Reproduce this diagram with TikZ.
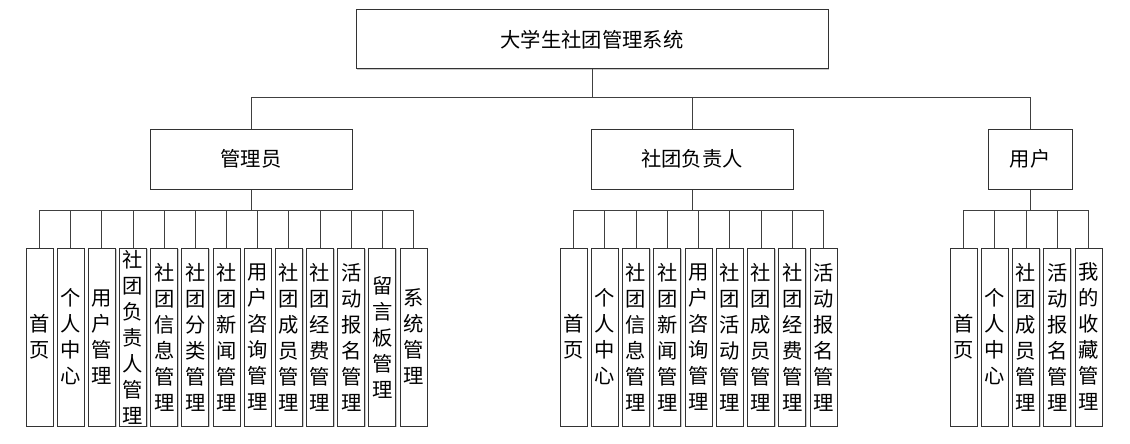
\documentclass[tikz,border=0pt]{standalone}
\usepackage{fontspec}
\newfontfamily\cjk{Noto Sans CJK SC}
\usetikzlibrary{shadows}
\begin{document}
\begin{tikzpicture}[x=1pt,y=-1pt,
  box/.style={draw=black!80,line width=1pt,fill=white,inner sep=0pt,
    drop shadow={shadow xshift=1.2pt,shadow yshift=-1.2pt,fill=black!35,opacity=.6},
    font=\cjk\fontsize{20.3}{26}\selectfont},
  leaf/.style={box,minimum width=27pt,minimum height=178pt,align=center},
  conn/.style={draw=black!75,line width=1pt}]
\useasboundingbox (0,0) rectangle (1130,444);
\node[box,minimum width=472pt,minimum height=59pt] (top) at (592,39.5) {大学生社团管理系统};
\node[box,minimum width=202pt,minimum height=60pt] (admin) at (251,159) {管理员};
\node[box,minimum width=202pt,minimum height=60pt] (lead) at (692,159) {社团负责人};
\node[box,minimum width=84pt,minimum height=60pt] (user) at (1030,159) {用户};
\foreach \n in {admin,lead,user}
  \draw[conn] (top.south) -- ++(0,28) -| (\n.north);
% admin leaves
\foreach \i/\t in {1/{首\\页},2/{个\\人\\中\\心},3/{用\\户\\管\\理},4/{社\\团\\负\\责\\人\\管\\理},
  5/{社\\团\\信\\息\\管\\理},6/{社\\团\\分\\类\\管\\理},7/{社\\团\\新\\闻\\管\\理},
  8/{用\\户\\咨\\询\\管\\理},9/{社\\团\\成\\员\\管\\理},10/{社\\团\\经\\费\\管\\理},
  11/{活\\动\\报\\名\\管\\理},12/{留\\言\\板\\管\\理},13/{系\\统\\管\\理}}{
  \node[leaf] (a\i) at ({39.5+31.17*(\i-1)},337) {\t};
  \draw[conn] (admin.south) -- ++(0,21) -| (a\i.north);
}
% leader leaves
\foreach \i/\t in {1/{首\\页},2/{个\\人\\中\\心},3/{社\\团\\信\\息\\管\\理},
  4/{社\\团\\新\\闻\\管\\理},5/{用\\户\\咨\\询\\管\\理},6/{社\\团\\活\\动\\管\\理},
  7/{社\\团\\成\\员\\管\\理},8/{社\\团\\经\\费\\管\\理},9/{活\\动\\报\\名\\管\\理}}{
  \node[leaf] (b\i) at ({573.5+31.25*(\i-1)},337) {\t};
  \draw[conn] (lead.south) -- ++(0,21) -| (b\i.north);
}
% user leaves
\foreach \i/\t in {1/{首\\页},2/{个\\人\\中\\心},3/{社\\团\\成\\员\\管\\理},
  4/{活\\动\\报\\名\\管\\理},5/{我\\的\\收\\藏\\管\\理}}{
  \node[leaf] (c\i) at ({963.5+31.25*(\i-1)},337) {\t};
  \draw[conn] (user.south) -- ++(0,21) -| (c\i.north);
}
\end{tikzpicture}
\end{document}
